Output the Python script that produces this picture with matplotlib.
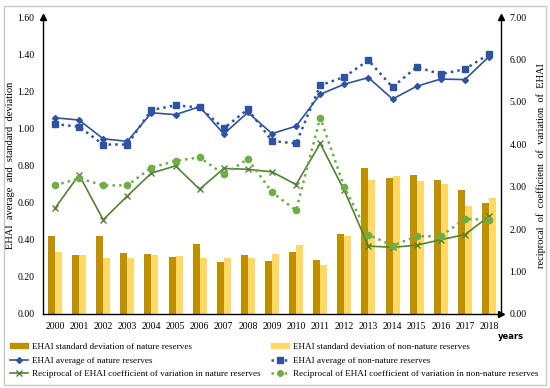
import numpy as np
import matplotlib.pyplot as plt
from matplotlib.lines import Line2D
from matplotlib.patches import Patch, Rectangle

plt.rcParams['font.family'] = ['Liberation Serif', 'DejaVu Serif']

# ---- Data ---- #
years = [str(y) for y in range(2000, 2019)]

sd_nature = [0.42, 0.315, 0.418, 0.33, 0.324, 0.304, 0.378, 0.279, 0.315, 0.286,
             0.331, 0.293, 0.429, 0.789, 0.735, 0.749, 0.72, 0.667, 0.596]
sd_non_nature = [0.335, 0.315, 0.30, 0.30, 0.315, 0.31, 0.30, 0.30, 0.30, 0.321,
                 0.373, 0.263, 0.42, 0.724, 0.744, 0.715, 0.70, 0.584, 0.627]

avg_nature = [1.057, 1.045, 0.944, 0.93, 1.084, 1.074, 1.117, 0.97, 1.086, 0.972,
              1.012, 1.184, 1.238, 1.274, 1.158, 1.227, 1.266, 1.263, 1.387]
avg_non_nature = [1.023, 1.009, 0.913, 0.913, 1.099, 1.124, 1.113, 1.00, 1.103, 0.932,
                  0.919, 1.232, 1.277, 1.367, 1.222, 1.331, 1.292, 1.319, 1.40]

rcv_nature = [2.49, 3.28, 2.22, 2.78, 3.32, 3.49, 2.94, 3.43, 3.41, 3.35,
              3.05, 4.02, 2.91, 1.60, 1.57, 1.62, 1.75, 1.87, 2.30]
rcv_non_nature = [3.03, 3.20, 3.03, 3.03, 3.45, 3.61, 3.69, 3.29, 3.65, 2.87,
                  2.44, 4.63, 2.99, 1.87, 1.61, 1.83, 1.83, 2.24, 2.22]

labels = ['EHAI standard deviation of nature reserves',
          'EHAI standard deviation of non-nature reserves',
          'EHAI average of nature reserves',
          'EHAI average of non-nature reserves',
          'Reciprocal of EHAI coefficient of variation in nature reserves',
          'Reciprocal of EHAI coefficient of variation in non-nature reserves']

dark_gold = '#BF9000'
light_gold = '#FFD966'
blue = '#2E54A1'
green_dark = '#548235'
green_light = '#70AD47'

fig = plt.figure(figsize=(5.5, 3.88), dpi=100)
fig.patches.append(Rectangle((0.008, 0.008), 0.984, 0.977, transform=fig.transFigure,
                             fill=False, edgecolor='#C8C8C8', linewidth=1.0))

ax = fig.add_axes([0.078, 0.191, 0.833, 0.765])
ax2 = ax.twinx()

x = np.arange(len(years))
w = 0.29
ax.bar(x - w / 2, sd_nature, width=w, color=dark_gold, zorder=2)
ax.bar(x + w / 2, sd_non_nature, width=w, color=light_gold, zorder=2)
ax.plot(x, avg_nature, '-', color=blue, lw=1.2, marker='D', ms=3, zorder=4)
ax.plot(x, avg_non_nature, ':', color=blue, lw=1.8, marker='s', ms=4, zorder=4)

ax2.plot(x, rcv_nature, '-', color=green_dark, lw=1.2, marker='x', ms=4, mew=1, zorder=4)
ax2.plot(x, rcv_non_nature, ':', color=green_light, lw=1.8, marker='o', ms=4.5, zorder=4)

ax.set_xlim(-0.5, len(years) - 0.5)
ax.set_ylim(0, 1.6)
ax2.set_ylim(0, 7)
ax.set_xticks(x)
ax.set_xticklabels(years)
ax.set_yticks(np.arange(0, 1.61, 0.2))
ax.set_yticklabels([f'{v:.2f}' for v in np.arange(0, 1.61, 0.2)])
ax2.set_yticks(np.arange(0, 7.1, 1))
ax2.set_yticklabels([f'{v:.2f}' for v in np.arange(0, 7.1, 1)])

for a in (ax, ax2):
    a.tick_params(length=0, labelsize=7, pad=6)
    a.spines['top'].set_visible(False)
ax.spines['right'].set_visible(False)
ax2.spines['left'].set_visible(False)
ax2.spines['bottom'].set_visible(False)
for s in ('left', 'bottom'):
    ax.spines[s].set_color('black')
    ax.spines[s].set_linewidth(1.0)
ax2.spines['right'].set_linewidth(1.0)

# arrow heads on the axes
ax.plot(0, 1, '^', color='black', ms=4, transform=ax.transAxes, clip_on=False)
ax.plot(1, 0, '>', color='black', ms=4, transform=ax.transAxes, clip_on=False)
ax2.plot(1, 1, '^', color='black', ms=4, transform=ax2.transAxes, clip_on=False)

ax.set_ylabel('EHAI  average  and  standard  deviation', fontsize=7.5)
ax.yaxis.set_label_coords(-0.061, 0.5)
ax2.set_ylabel('reciprocal  of  coefficient  of  variation  of  EHAI', fontsize=7.5)
ax2.yaxis.set_label_coords(1.076, 0.5)
fig.text(0.929, 0.134, 'years', fontsize=6, fontweight='bold', family='DejaVu Sans',
         ha='center', va='center')

handles = [Patch(color=dark_gold), Patch(color=light_gold),
           Line2D([], [], color=blue, lw=1.2, marker='D', ms=3),
           Line2D([], [], color=blue, lw=1.8, ls=':', marker='s', ms=4),
           Line2D([], [], color=green_dark, lw=1.2, marker='x', ms=4),
           Line2D([], [], color=green_light, lw=1.8, ls=':', marker='o', ms=4)]

leg_kw = dict(loc='lower left', frameon=False, fontsize=6.6, handlelength=1.9,
              handleheight=0.6, labelspacing=0.62, borderaxespad=0.0,
              borderpad=0.2, handletextpad=0.5)
fig.legend([handles[i] for i in (0, 2, 4)], [labels[i] for i in (0, 2, 4)],
           bbox_to_anchor=(0.015, 0.02), **leg_kw)
fig.legend([handles[i] for i in (1, 3, 5)], [labels[i] for i in (1, 3, 5)],
           bbox_to_anchor=(0.49, 0.02), **leg_kw)

fig.savefig('out.png', dpi=100)
